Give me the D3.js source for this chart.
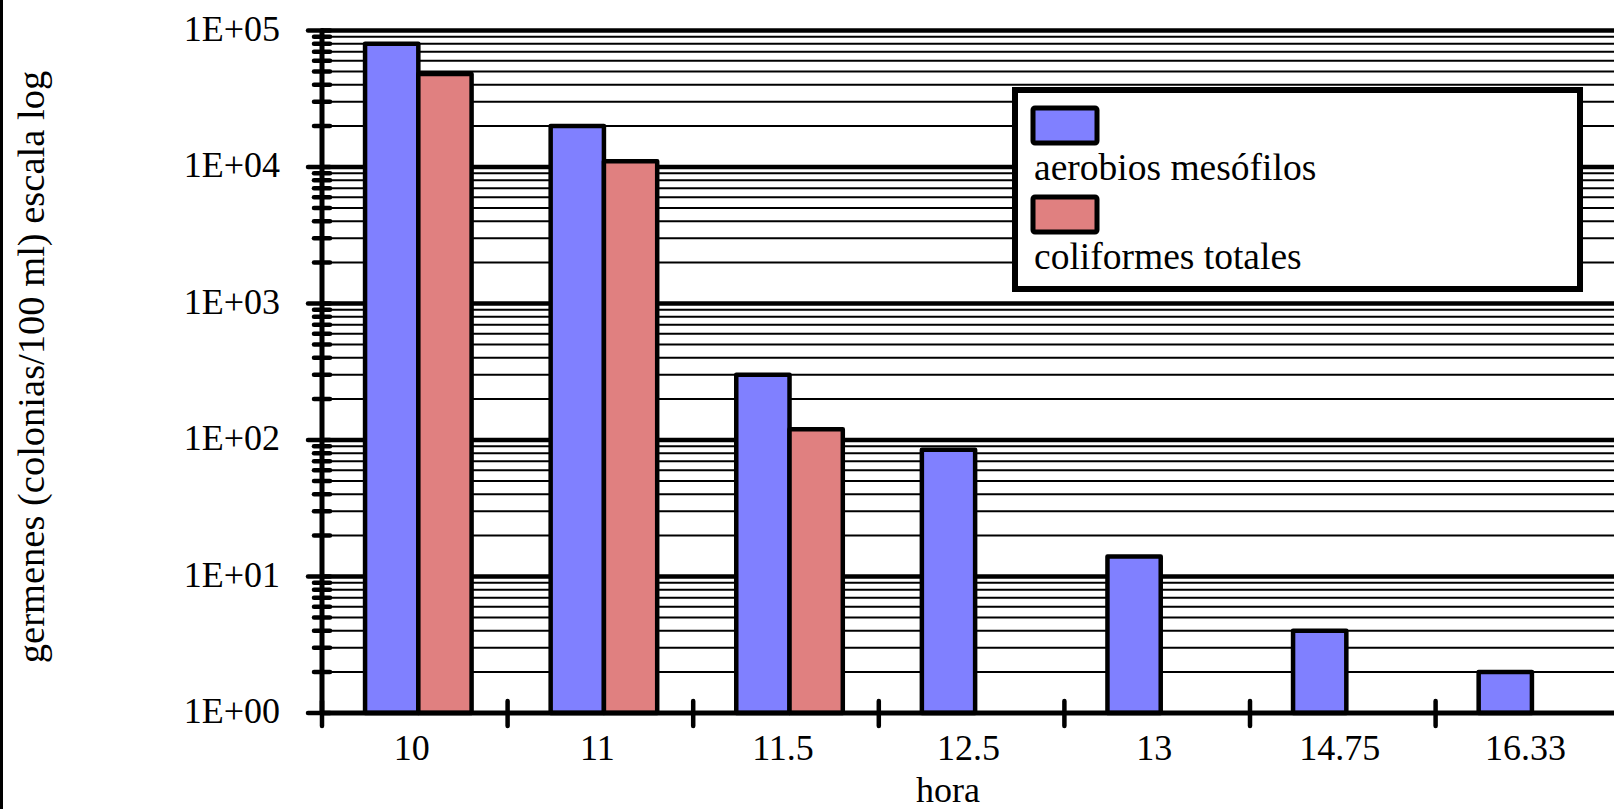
<!DOCTYPE html>
<html>
<head>
<meta charset="utf-8">
<script src="https://cdn.jsdelivr.net/npm/d3@7"></script>
<style>
  html, body { margin: 0; padding: 0; background: #fff; overflow: hidden; }
  svg { display: block; font-family: "Liberation Serif", "Times New Roman", serif; }
</style>
</head>
<body>
<svg id="chart" width="1614" height="809"></svg>
<script>
// Sampling hours and bacterial counts (colonies / 100 ml)
const hours = ["10", "11", "11.5", "12.5", "13", "14.75", "16.33"];
const seriesNames = ["aerobios mesófilos", "coliformes totales"];
const aerobios = [80000, 20000, 300, 85, 14, 4, 2];
const coliformes = [48000, 11000, 120, null, null, null, null];
const yTickLabels = ["1E+00", "1E+01", "1E+02", "1E+03", "1E+04", "1E+05"];
const colors = ["#8080ff", "#e08080"];

const svg = d3.select("#chart");
const W = 1614, H = 809;

const plotLeft = 322, plotTop = 30.5, plotBottom = 713;
const bandW = 185.6;
const plotRight = plotLeft + bandW * hours.length;

const x = d3.scaleBand().domain(hours).range([plotLeft, plotRight]).padding(0);
const xs = d3.scaleBand().domain(seriesNames)
  .range([bandW * 0.232, bandW * 0.232 + bandW * 0.574]).padding(0);
const y = d3.scaleLog().domain([1, 1e5]).range([plotBottom, plotTop]);

// left frame strip
svg.append("rect").attr("x", 0).attr("y", 0).attr("width", 3).attr("height", H).attr("fill", "#000");

// gridlines: thick at decades, thin at 2..9
const majors = d3.range(0, 6).map(e => Math.pow(10, e));
const minors = [];
for (let e = 0; e < 5; e++) for (let m = 2; m <= 9; m++) minors.push(m * Math.pow(10, e));

const grid = svg.append("g");
grid.selectAll("line.minor").data(minors).join("line")
  .attr("class", "minor")
  .attr("x1", plotLeft).attr("x2", W)
  .attr("y1", d => y(d)).attr("y2", d => y(d))
  .attr("stroke", "#000").attr("stroke-width", 2);
grid.selectAll("line.major").data(majors.slice(1)).join("line")
  .attr("class", "major")
  .attr("x1", plotLeft).attr("x2", W)
  .attr("y1", d => y(d)).attr("y2", d => y(d))
  .attr("stroke", "#000").attr("stroke-width", 4.5);

// bars
const rows = hours.map((h, i) => ({ h, vals: [aerobios[i], coliformes[i]] }));
const groups = svg.append("g").selectAll("g").data(rows).join("g")
  .attr("transform", d => `translate(${x(d.h)},0)`);
groups.selectAll("rect")
  .data(d => d.vals.map((v, k) => ({ v, k })).filter(o => o.v != null))
  .join("rect")
  .attr("x", o => xs(seriesNames[o.k]))
  .attr("width", xs.bandwidth())
  .attr("y", o => y(o.v))
  .attr("height", o => y(1) - y(o.v))
  .attr("fill", o => colors[o.k])
  .attr("stroke", "#000")
  .attr("stroke-width", 4.5)
  .attr("stroke-linejoin", "round");

// y axis line and ticks
const axes = svg.append("g").attr("stroke", "#000").attr("stroke-linecap", "round");
axes.append("line")
  .attr("x1", plotLeft).attr("x2", plotLeft)
  .attr("y1", plotTop).attr("y2", plotBottom)
  .attr("stroke-width", 5);
axes.selectAll("line.ymin").data(minors).join("line")
  .attr("class", "ymin")
  .attr("x1", plotLeft - 8).attr("x2", plotLeft + 8)
  .attr("y1", d => y(d)).attr("y2", d => y(d))
  .attr("stroke-width", 4.5);
axes.selectAll("line.ymaj").data(majors).join("line")
  .attr("class", "ymaj")
  .attr("x1", plotLeft - 14).attr("x2", plotLeft + 8)
  .attr("y1", d => y(d)).attr("y2", d => y(d))
  .attr("stroke-width", 4.5);

// x axis line and ticks between categories
axes.append("line")
  .attr("x1", plotLeft).attr("x2", W)
  .attr("y1", plotBottom).attr("y2", plotBottom)
  .attr("stroke-width", 5);
const xBounds = hours.map(h => x(h));
axes.selectAll("line.xt").data(xBounds).join("line")
  .attr("class", "xt")
  .attr("x1", d => d).attr("x2", d => d)
  .attr("y1", plotBottom - 12).attr("y2", plotBottom + 13)
  .attr("stroke-width", 4.5);

// y tick labels
svg.append("g").selectAll("text").data(majors).join("text")
  .attr("x", 280).attr("y", d => y(d) + 10)
  .attr("text-anchor", "end")
  .attr("font-size", 36)
  .text((d, i) => yTickLabels[i]);

// x tick labels
svg.append("g").selectAll("text").data(hours).join("text")
  .attr("x", d => x(d) + x.bandwidth() / 2 - 3)
  .attr("y", plotBottom + 47)
  .attr("text-anchor", "middle")
  .attr("font-size", 36)
  .text(d => d);

// axis titles
svg.append("text")
  .attr("x", 948).attr("y", 802)
  .attr("text-anchor", "middle")
  .attr("font-size", 36)
  .text("hora");
svg.append("text")
  .attr("transform", "translate(44,367) rotate(-90)")
  .attr("text-anchor", "middle")
  .attr("font-size", 38.5)
  .text("germenes (colonias/100 ml) escala log");

// legend
const lg = svg.append("g");
lg.append("rect")
  .attr("x", 1015).attr("y", 90).attr("width", 565).attr("height", 199)
  .attr("fill", "#fff").attr("stroke", "#000").attr("stroke-width", 6);
const legendItems = seriesNames.map((n, i) => ({ n, c: colors[i], i }));
const li = lg.selectAll("g").data(legendItems).join("g")
  .attr("transform", d => `translate(0,${d.i * 89})`);
li.append("rect")
  .attr("x", 1033).attr("y", 108).attr("width", 64).attr("height", 35)
  .attr("rx", 2)
  .attr("fill", d => d.c).attr("stroke", "#000").attr("stroke-width", 5);
li.append("text")
  .attr("x", 1034).attr("y", 180)
  .attr("font-size", 37.5)
  .text(d => d.n);
</script>
</body>
</html>
